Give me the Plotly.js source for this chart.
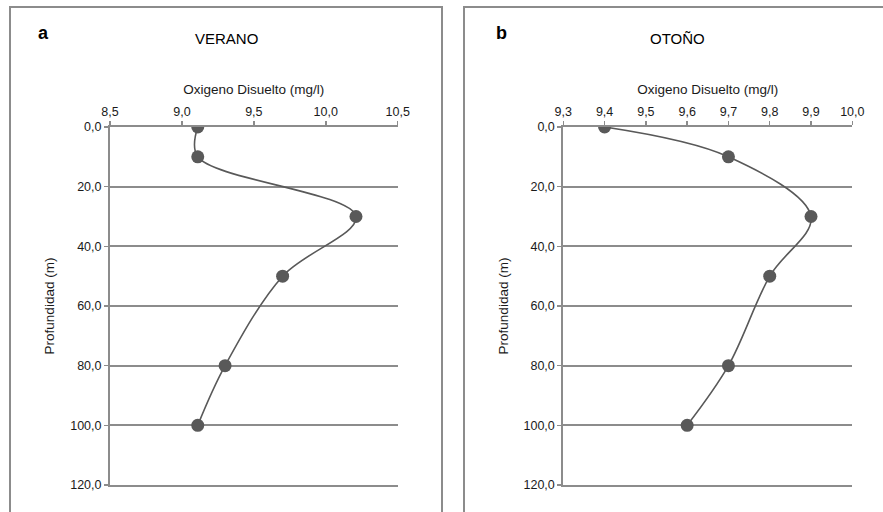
<!DOCTYPE html>
<html>
<head>
<meta charset="utf-8">
<script src="https://cdn.plot.ly/plotly-3.0.1.min.js"></script>
<style>html,body{margin:0;padding:0;background:#fff;}#chart{width:883px;height:512px;}</style>
</head>
<body>
<div id="chart"></div>
<script>
const depth = [0, 10, 30, 50, 80, 100];
const oxygenVerano = [9.11, 9.11, 10.21, 9.70, 9.30, 9.11];
const oxygenOtono = [9.40, 9.70, 9.90, 9.80, 9.70, 9.60];
const panelLetters = ['a', 'b'];
const panelTitles = ['VERANO', 'OTOÑO'];
const xTitle = 'Oxigeno Disuelto (mg/l)';
const yTitle = 'Profundidad (m)';

const W = 883, H = 512;
const px = x => x / W;
const py = y => 1 - y / H;

const lineCol = '#595959';
const gridCol = '#8c8c8c';
const textCol = '#1a1a1a';
const fontFam = '"Liberation Sans", Arial, sans-serif';

function trace(x, xa, ya) {
  return {
    x: x, y: depth, xaxis: xa, yaxis: ya,
    type: 'scatter', mode: 'lines+markers',
    line: {color: lineCol, width: 1.6, shape: 'spline', smoothing: 1},
    marker: {color: lineCol, size: 13},
    showlegend: false, hoverinfo: 'x+y'
  };
}

function xax(domain, range, dtick, anchor) {
  return {
    domain: domain, range: range, dtick: dtick, tick0: 0, side: 'top', anchor: anchor,
    tickformat: '.1f', showgrid: false, zeroline: false,
    showline: true, mirror: true, linecolor: gridCol, linewidth: 2,
    ticks: 'outside', ticklen: 4, tickcolor: gridCol, tickwidth: 1.5,
    tickfont: {family: fontFam, size: 12.5, color: textCol},
    title: {text: xTitle, font: {family: fontFam, size: 13.5, color: textCol}, standoff: 7},
    fixedrange: true
  };
}
function yax(domain, anchor) {
  return {
    domain: domain, range: [120, 0], dtick: 20, tick0: 0, anchor: anchor,
    tickformat: '.1f', showgrid: true, gridcolor: gridCol, gridwidth: 2, zeroline: false,
    showline: true, linecolor: gridCol, linewidth: 2,
    ticks: 'outside', ticklen: 4, tickcolor: gridCol, tickwidth: 1.5,
    tickfont: {family: fontFam, size: 12.5, color: textCol},
    title: {text: yTitle, font: {family: fontFam, size: 13.5, color: textCol}, standoff: 12},
    fixedrange: true
  };
}

function label(text, x, y, size) {
  return {text: text, xref: 'paper', yref: 'paper', x: px(x), y: py(y),
          xanchor: 'center', yanchor: 'middle', showarrow: false,
          font: {family: fontFam, size: size, color: '#000'}};
}

const yDom = [py(485), py(127)];
const layout = {
  width: W, height: H,
  margin: {l: 0, r: 0, t: 0, b: 0},
  paper_bgcolor: '#fff', plot_bgcolor: '#fff',
  separators: ',.',
  showlegend: false,
  xaxis: xax([px(110), px(397.7)], [8.5, 10.5], 0.5, 'y'),
  yaxis: yax(yDom, 'x'),
  xaxis2: xax([px(563.3), px(852.3)], [9.3, 10.0], 0.1, 'y2'),
  yaxis2: yax(yDom, 'x2'),
  shapes: [
    {type: 'rect', xref: 'paper', yref: 'paper', x0: px(10), x1: px(442), y0: py(530), y1: py(7), line: {color: gridCol, width: 2}, fillcolor: 'rgba(0,0,0,0)', layer: 'below'},
    {type: 'rect', xref: 'paper', yref: 'paper', x0: px(464), x1: px(900), y0: py(530), y1: py(7), line: {color: gridCol, width: 2}, fillcolor: 'rgba(0,0,0,0)', layer: 'below'}
  ],
  annotations: [
    label('<b>' + panelLetters[0] + '</b>', 43, 33, 18),
    label('<b>' + panelLetters[1] + '</b>', 501, 33, 18),
    label(panelTitles[0], 226, 38, 15),
    label(panelTitles[1], 677, 38, 15)
  ]
};

Plotly.newPlot('chart', [trace(oxygenVerano, 'x', 'y'), trace(oxygenOtono, 'x2', 'y2')], layout, {staticPlot: true, displayModeBar: false});
</script>
</body>
</html>
